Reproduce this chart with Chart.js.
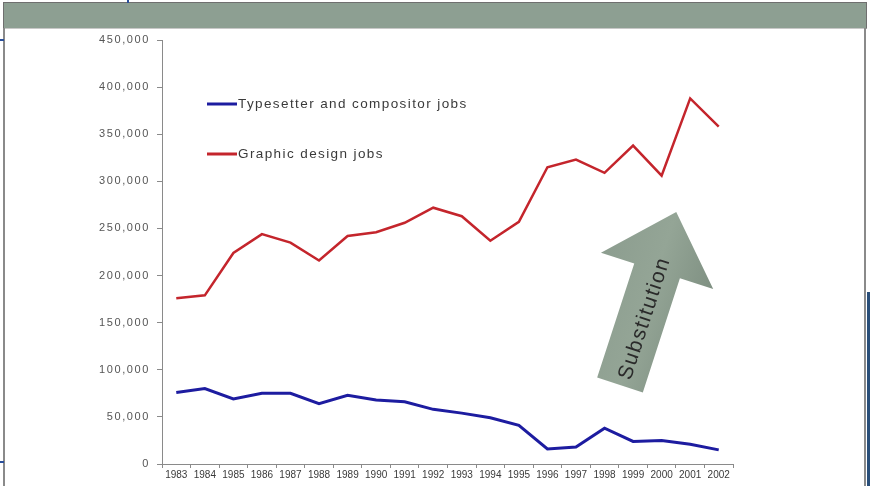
<!DOCTYPE html>
<html>
<head>
<meta charset="utf-8">
<script src="https://cdn.jsdelivr.net/npm/chart.js@4/dist/chart.umd.min.js"></script>
<style>
  body { margin: 0; background: #fff; }
  #wrap { position: relative; width: 870px; height: 486px; overflow: hidden; background: #fff; }
  #header { position: absolute; left: 3px; top: 2px; width: 862px; height: 25px; background: #8d9f92; border: 1px solid #6f6f6f; border-bottom-color: #c8c8c8; }
  #leftLine { position: absolute; left: 3px; top: 28px; width: 2px; height: 458px; background: #8a8a8a; }
  #rightLine { position: absolute; left: 864px; top: 28px; width: 2px; height: 458px; background: #8a8a8a; }
  #blueRight { position: absolute; left: 867px; top: 292px; width: 3px; height: 194px; background: #2a4f7a; }
  #blueTop { position: absolute; left: 127px; top: 0; width: 2px; height: 3px; background: #2a4f9a; }
  #blueL1 { position: absolute; left: 0; top: 39px; width: 4px; height: 2px; background: #2a4f9a; }
  #blueL2 { position: absolute; left: 0; top: 461px; width: 4px; height: 2px; background: #2a4f9a; }
  canvas { position: absolute; left: 0; top: 0; }
</style>
</head>
<body>
<div id="wrap">
  <div id="header"></div>
  <div id="leftLine"></div>
  <div id="rightLine"></div>
  <div id="blueRight"></div>
  <div id="blueTop"></div>
  <div id="blueL1"></div>
  <div id="blueL2"></div>
  <canvas id="chart" width="870" height="486"></canvas>
</div>
<script>
// Data
const years = ['1983','1984','1985','1986','1987','1988','1989','1990','1991','1992',
               '1993','1994','1995','1996','1997','1998','1999','2000','2001','2002'];
const typesetterJobs = [76000, 80000, 69000, 75000, 75000, 64000, 73000, 68000, 66000, 58000,
                        54000, 49000, 41000, 16000, 18000, 38000, 24000, 25000, 21000, 15000];
const graphicJobs = [176000, 179000, 224000, 244000, 235000, 216000, 242000, 246000, 256000, 272000,
                     263000, 237000, 257000, 315000, 323000, 309000, 338000, 306000, 388000, 358000];
const seriesNames = ['Typesetter and compositor jobs', 'Graphic design jobs'];
const seriesColors = ['#1d1ca0', '#c4252c'];
const arrowLabel = 'Substitution';

// Legend drawn inside the plot, Excel style
const insideLegend = {
  id: 'insideLegend',
  afterDraw(chart) {
    const ctx = chart.ctx;
    const rows = [104, 154];
    ctx.save();
    chart.data.datasets.forEach((ds, i) => {
      ctx.strokeStyle = ds.borderColor;
      ctx.lineWidth = 3;
      ctx.beginPath();
      ctx.moveTo(207, rows[i]);
      ctx.lineTo(237, rows[i]);
      ctx.stroke();
      ctx.fillStyle = '#3a3a3a';
      ctx.font = '13.5px "Liberation Sans", Arial, sans-serif';
      ctx.letterSpacing = '1.4px';
      ctx.textBaseline = 'middle';
      ctx.fillText(ds.label, 238, rows[i]);
    });
    ctx.restore();
  }
};

// y tick labels are spaced out a bit in the original
const spacedYTicks = {
  id: 'spacedYTicks',
  beforeDraw(chart) {
    const s = chart.scales.y;
    if (s._spaced) return;
    const orig = s.drawLabels.bind(s);
    s.drawLabels = (area) => {
      chart.ctx.save();
      chart.ctx.letterSpacing = '1.6px';
      orig(area);
      chart.ctx.restore();
    };
    s._spaced = true;
  }
};

// Grey "Substitution" arrow
const substitutionArrow = {
  id: 'substitutionArrow',
  afterDraw(chart) {
    const ctx = chart.ctx;
    ctx.save();
    ctx.translate(620, 385);
    ctx.rotate(18 * Math.PI / 180);
    const L = 182, headLen = 62, shaftW = 48, headW = 118;
    ctx.beginPath();
    ctx.moveTo(-shaftW / 2, 0);
    ctx.lineTo(-shaftW / 2, -(L - headLen));
    ctx.lineTo(-headW / 2, -(L - headLen));
    ctx.lineTo(0, -L);
    ctx.lineTo(headW / 2, -(L - headLen));
    ctx.lineTo(shaftW / 2, -(L - headLen));
    ctx.lineTo(shaftW / 2, 0);
    ctx.closePath();
    const grad = ctx.createLinearGradient(-headW / 2, 0, headW / 2, 0);
    grad.addColorStop(0, '#8c9d8f');
    grad.addColorStop(0.5, '#94a596');
    grad.addColorStop(1, '#7f9082');
    ctx.fillStyle = grad;
    ctx.fill();
    ctx.rotate(-Math.PI / 2);
    ctx.fillStyle = '#2a2a2a';
    ctx.font = '21px "Liberation Sans", Arial, sans-serif';
    ctx.letterSpacing = '1.5px';
    ctx.textAlign = 'center';
    ctx.textBaseline = 'middle';
    ctx.fillText(arrowLabel, 71, 3);
    ctx.restore();
  }
};

new Chart(document.getElementById('chart'), {
  type: 'line',
  data: {
    labels: years,
    datasets: [
      { label: seriesNames[0], data: typesetterJobs, borderColor: seriesColors[0], borderWidth: 3,
        pointRadius: 0, tension: 0, fill: false },
      { label: seriesNames[1], data: graphicJobs, borderColor: seriesColors[1], borderWidth: 2.5,
        pointRadius: 0, tension: 0, fill: false }
    ]
  },
  options: {
    responsive: false,
    animation: false,
    layout: { padding: { left: 0, top: 40, right: 137, bottom: 0 } },
    plugins: { legend: { display: false }, tooltip: { enabled: false } },
    scales: {
      x: {
        offset: true,
        grid: { offset: true, drawOnChartArea: false, tickLength: 4, color: '#8a8a8a' },
        border: { color: '#8a8a8a', width: 1 },
        ticks: { autoSkip: false, maxRotation: 0, minRotation: 0, padding: 1, color: '#3a3a3a',
                 font: { family: '"Liberation Sans", Arial', size: 10 } },
        afterFit(scale) { scale.height = 22; }
      },
      y: {
        min: 0, max: 450000,
        grid: { drawOnChartArea: false, tickLength: 5, color: '#8a8a8a' },
        border: { color: '#8a8a8a', width: 1 },
        ticks: { stepSize: 50000, padding: 7, color: '#555555',
                 font: { family: '"Liberation Sans", Arial', size: 11 },
                 callback: v => v.toLocaleString('en-US') },
        afterFit(scale) { scale.width = 162; }
      }
    }
  },
  plugins: [spacedYTicks, insideLegend, substitutionArrow]
});
</script>
</body>
</html>
